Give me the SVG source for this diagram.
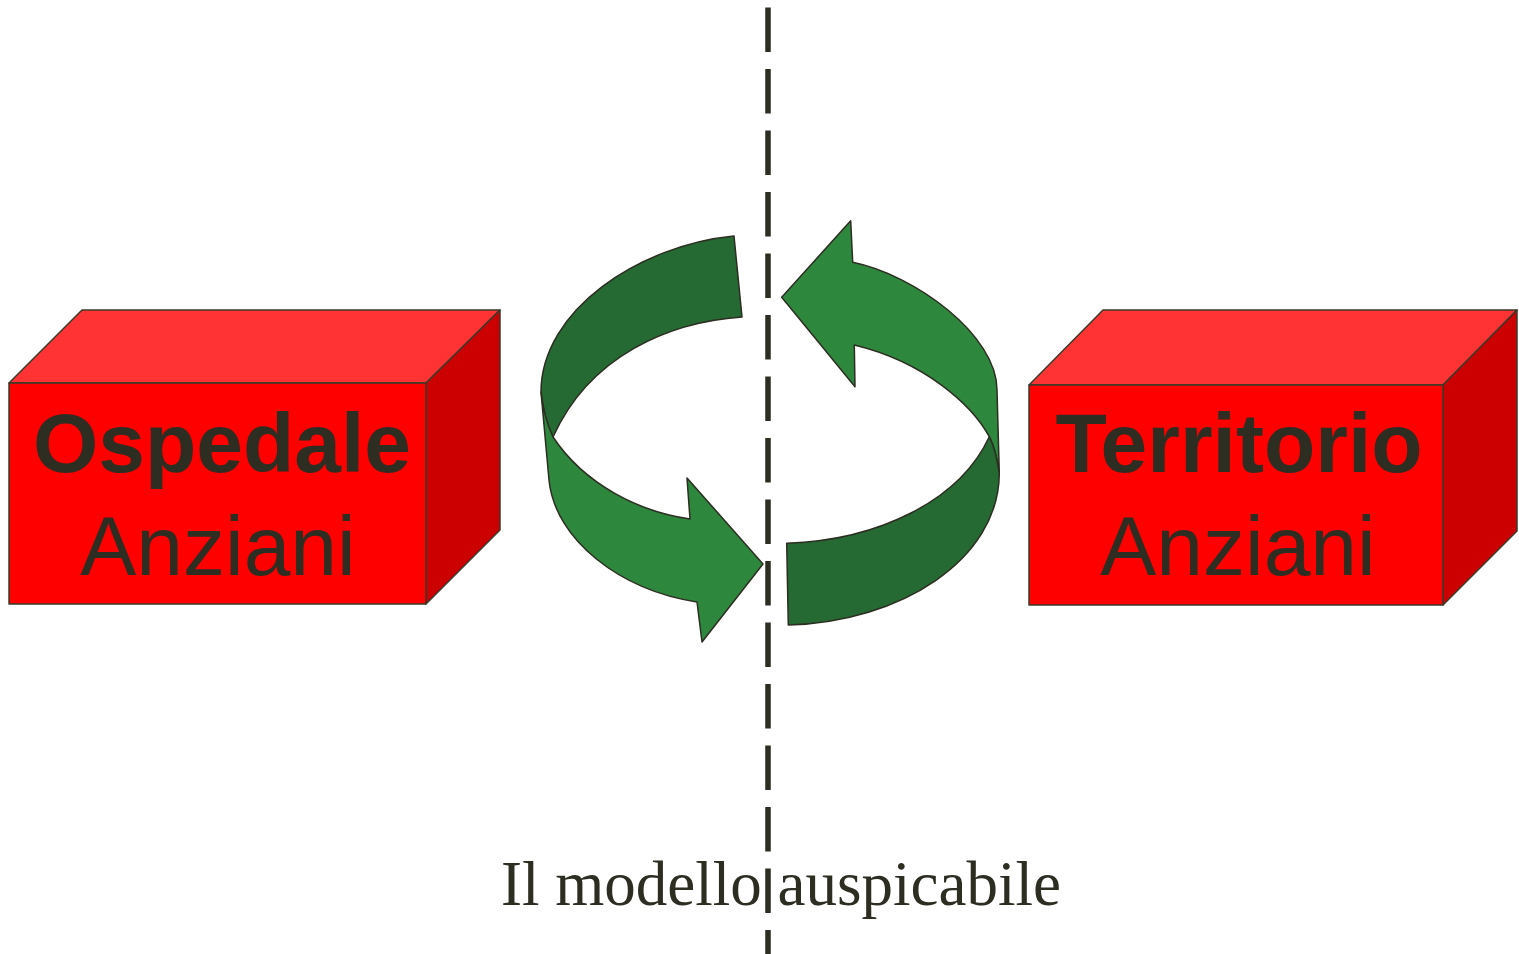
<svg xmlns="http://www.w3.org/2000/svg" width="1519" height="954" viewBox="0 0 1519 954">
<style>
.front{fill:#ff0000;stroke:#3a3a2a;stroke-width:1.5;stroke-linejoin:round}
.top{fill:#ff3333;stroke:#3a3a2a;stroke-width:1.5;stroke-linejoin:round}
.side{fill:#cc0000;stroke:#3a3a2a;stroke-width:1.5;stroke-linejoin:round}
.title{font-family:"Liberation Sans",Arial,sans-serif;font-weight:bold;font-size:84px;fill:#2d2d22;text-anchor:middle}
.sub{font-family:"Liberation Sans",Arial,sans-serif;font-size:84px;fill:#2d2d22;text-anchor:middle}
.light{fill:#2d873d;stroke:#2d2d22;stroke-width:1.5;stroke-linejoin:round}
.dark{fill:#246a32;stroke:#2d2d22;stroke-width:1.5;stroke-linejoin:round}
.caption{font-family:"Liberation Serif","Times New Roman",serif;font-size:63px;fill:#2d2d22;text-anchor:middle}
</style>
<rect width="1519" height="954" fill="#ffffff"/>
<g id="divider">
<line x1="768" y1="7.5" x2="768" y2="954" stroke="#2d2d22" stroke-width="5.5" stroke-dasharray="44.5 17"/>
</g>
<g id="ospedale">
<polygon class="top" points="9,383 82,310 500,310 426,383"/>
<polygon class="side" points="426,383 500,310 500,530 426,604"/>
<rect class="front" x="9" y="383" width="417" height="221"/>
<text class="title" x="222" y="472">Ospedale</text>
<text class="sub" x="218" y="575">Anziani</text>
</g>
<g id="territorio">
<polygon class="top" points="1029,385 1103,310 1517,310 1443,385"/>
<polygon class="side" points="1443,385 1517,310 1517,531 1443,605"/>
<rect class="front" x="1029" y="385" width="414" height="220"/>
<text class="title" x="1239" y="472">Territorio</text>
<text class="sub" x="1238" y="575">Anziani</text>
</g>
<g id="connectors">
<g id="arrow-left">
<path class="dark" d="M734,236 C640,245 541,310 541,392 Q544,418 553,437 C590,355 670,322 742,317 Z"/>
<path class="light" d="M541,392 Q544,418 553,437 C585,485 640,512 690,519 L687,478 L763,564 L702,642 L697,602 C620,590 555,540 549,480 Z"/>
</g>
<g id="arrow-right">
<path class="light" d="M781.7,297.3 L850.7,220.7 L852.7,262.3 C915,275 997,335 997,390 L999.3,473.3 Q996,450 989.3,436.7 C972,405 925,362 854.3,345 L855,386.7 Z"/>
<path class="dark" d="M999.3,473.3 C999,560 900,622 788.3,625 L786.7,543.3 C880,540 960,500 989.3,436.7 Q996,450 999.3,473.3 Z"/>
</g>
</g>
<g id="caption">
<text class="caption" x="781" y="905">Il modello auspicabile</text>
</g>
</svg>
